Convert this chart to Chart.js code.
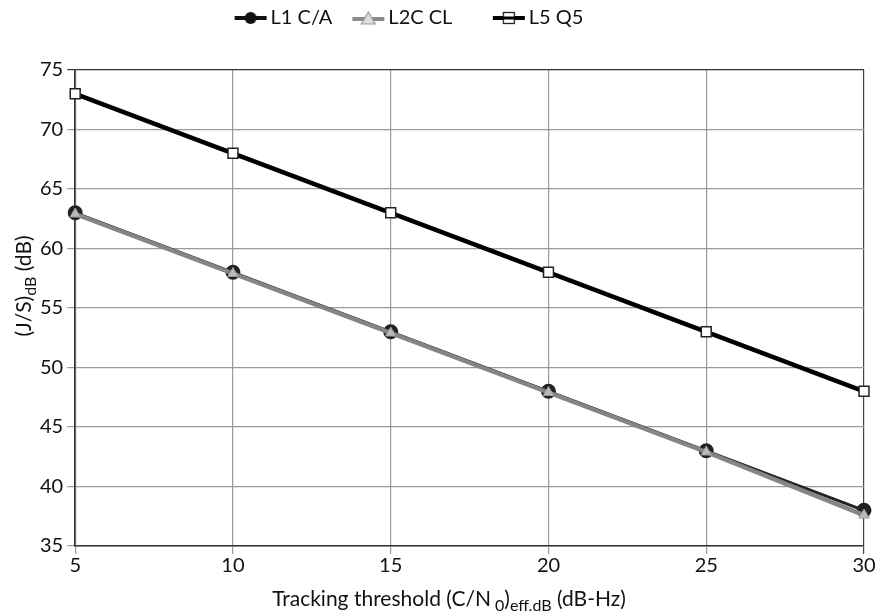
<!DOCTYPE html>
<html>
<head>
<meta charset="utf-8">
<script src="https://cdn.jsdelivr.net/npm/chart.js@4/dist/chart.umd.min.js"></script>
<style>
  html, body { margin: 0; padding: 0; background: #fff; }
  #wrap { width: 882px; height: 616px; position: relative; }
</style>
</head>
<body>
<div id="wrap"><canvas id="chart"></canvas></div>
<script>
// threshold vs J/S curves, three GPS signals
const thresholds = [5, 10, 15, 20, 25, 30];
const l1ca = [63, 58, 53, 48, 43, 38];
const l2ccl = [62.9, 57.9, 52.9, 47.9, 42.9, 37.6];
const l5q5 = [73, 68, 63, 58, 53, 48];
const yTicks = [35, 40, 45, 50, 55, 60, 65, 70, 75];

const FONT = "Lato, 'Open Sans', sans-serif";

// little line+marker icon for the legend
function legendIcon(draw) {
  const c = document.createElement("canvas");
  c.width = 34; c.height = 16;
  const g = c.getContext("2d");
  draw(g);
  return c;
}
const icons = [
  legendIcon((g) => {
    g.strokeStyle = "#111"; g.lineWidth = 4;
    g.beginPath(); g.moveTo(1, 8); g.lineTo(33, 8); g.stroke();
    g.fillStyle = "#111"; g.beginPath(); g.arc(17, 8, 6, 0, Math.PI * 2); g.fill();
  }),
  legendIcon((g) => {
    g.strokeStyle = "#8a8a8a"; g.lineWidth = 4;
    g.beginPath(); g.moveTo(1, 9); g.lineTo(33, 9); g.stroke();
    g.fillStyle = "#ddd"; g.strokeStyle = "#999"; g.lineWidth = 1.2;
    g.beginPath(); g.moveTo(17, 2); g.lineTo(24, 14); g.lineTo(10, 14); g.closePath(); g.fill(); g.stroke();
  }),
  legendIcon((g) => {
    g.strokeStyle = "#000"; g.lineWidth = 4;
    g.beginPath(); g.moveTo(1, 8); g.lineTo(33, 8); g.stroke();
    g.fillStyle = "#fff"; g.fillRect(11, 2, 12, 12);
    g.strokeStyle = "#222"; g.lineWidth = 1.3; g.strokeRect(11.5, 2.5, 11, 11);
    g.beginPath(); g.moveTo(11, 8); g.lineTo(23, 8); g.lineWidth = 3; g.strokeStyle = "#000"; g.stroke();
  }),
];

// axis titles with subscripts
function drawSub(ctx, parts, x, y, align) {
  let total = 0;
  parts.forEach((p) => {
    ctx.font = (p.sub ? "16px " : "21px ") + FONT;
    total += ctx.measureText(p.t).width;
  });
  let cx = align === "center" ? x - total / 2 : x;
  parts.forEach((p) => {
    ctx.font = (p.sub ? "16px " : "21px ") + FONT;
    ctx.fillText(p.t, cx, y + (p.sub ? 5 : 0));
    cx += ctx.measureText(p.t).width;
  });
}
const axisTitles = {
  id: "axisTitles",
  afterDraw(chart) {
    const { ctx } = chart;
    ctx.save();
    ctx.fillStyle = "#111";
    ctx.textBaseline = "alphabetic";
    drawSub(ctx, [
      { t: "Tracking threshold (C/N" }, { t: " 0", sub: true }, { t: ")" },
      { t: "eff.dB", sub: true }, { t: " (dB-Hz)" },
    ], 449, 606, "center");
    ctx.translate(31, 286);
    ctx.rotate(-Math.PI / 2);
    drawSub(ctx, [{ t: "(J/S)" }, { t: "dB", sub: true }, { t: " (dB)" }], 0, 0, "center");
    ctx.restore();
  },
};

// legend: fixed height, sits a bit left of centre and near the top edge
const legendPlace = {
  id: "legendPlace",
  beforeInit(chart) {
    const fit = chart.legend.fit;
    chart.legend.fit = function () {
      fit.call(this);
      this.height = 70;
    };
  },
  afterLayout(chart) {
    const lg = chart.legend;
    lg.left -= 38; lg.right -= 38;
    lg.top -= 18; lg.bottom -= 18;
  },
};

const toXY = (vals) => vals.map((v, i) => ({ x: thresholds[i], y: v }));

new Chart(document.getElementById("chart"), {
  type: "line",
  data: {
    datasets: [
      {
        label: "L1 C/A", data: toXY(l1ca), order: 2, clip: false,
        borderColor: "#222", borderWidth: 3,
        pointStyle: "circle", pointRadius: 6, pointBackgroundColor: "#222", pointBorderColor: "#222",
      },
      {
        label: "L2C CL", data: toXY(l2ccl), order: 1, clip: false,
        borderColor: "#858585", borderWidth: 4.5,
        pointStyle: "triangle", pointRadius: 6, pointBackgroundColor: "#bbb", pointBorderColor: "#999", pointBorderWidth: 1,
      },
      {
        label: "L5 Q5", data: toXY(l5q5), order: 0, clip: false,
        borderColor: "#000", borderWidth: 4.5,
        pointStyle: "rect", pointRadius: 7, pointBackgroundColor: "#fff", pointBorderColor: "#222", pointBorderWidth: 1.5,
      },
    ],
  },
  options: {
    responsive: true,
    maintainAspectRatio: false,
    animation: false,
    layout: { padding: { top: 0, right: 18, bottom: 38, left: 36 } },
    plugins: {
      tooltip: { enabled: false },
      legend: {
        position: "top",
        labels: {
          usePointStyle: true,
          pointStyleWidth: 20,
          color: "#111",
          font: { family: FONT, size: 20 },
          padding: 26,
          generateLabels: (chart) => chart.data.datasets.map((d, i) => ({
            text: i === 1 ? d.label + "    " : d.label, pointStyle: icons[i], datasetIndex: i,
            fillStyle: "#000", strokeStyle: "#000", lineWidth: 0, fontColor: "#111",
          })),
        },
        onClick: null,
      },
    },
    scales: {
      x: {
        type: "linear", min: 5, max: 30,
        afterBuildTicks: (axis) => { axis.ticks = thresholds.map((v) => ({ value: v })); },
        border: { color: "#333", width: 1.5 },
        grid: { color: (c) => (c.tick.value === 30 ? "#444" : "#9a9a9a"), lineWidth: 1.2, tickLength: 8 },
        ticks: { color: "#111", font: { family: FONT, size: 20 }, padding: 0, maxRotation: 0 },
      },
      y: {
        min: 35, max: 75,
        afterBuildTicks: (axis) => { axis.ticks = yTicks.map((v) => ({ value: v })); },
        border: { color: "#333", width: 1.5 },
        grid: { color: (c) => (c.tick.value === 75 ? "#333" : "#9a9a9a"), lineWidth: 1.2, tickLength: 8 },
        ticks: { color: "#111", font: { family: FONT, size: 20 }, padding: 4 },
      },
    },
  },
  plugins: [axisTitles, legendPlace],
});
</script>
</body>
</html>
